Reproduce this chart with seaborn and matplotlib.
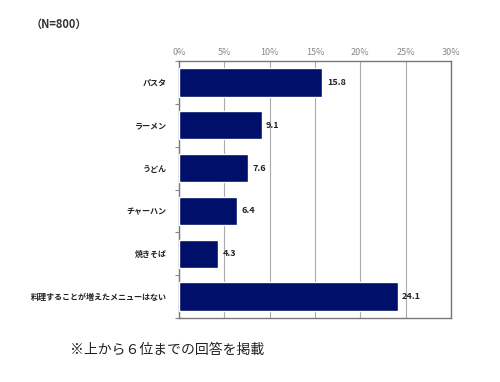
import matplotlib
matplotlib.use("Agg")
import matplotlib.pyplot as plt
import seaborn as sns
import pandas as pd
from matplotlib.ticker import FixedLocator

categories = ["パスタ", "ラーメン", "うどん", "チャーハン", "焼きそば", "料理することが増えたメニューはない"]
values = [15.8, 9.1, 7.6, 6.4, 4.3, 24.1]
tick_values = [0, 5, 10, 15, 20, 25, 30]
tick_labels = ["0%", "5%", "10%", "15%", "20%", "25%", "30%"]

sns.set_theme(style="white")
plt.rcParams['font.family'] = ['Noto Sans CJK JP', 'DejaVu Sans']

df = pd.DataFrame({"category": categories, "value": values})

fig = plt.figure(figsize=(5, 3.82), dpi=100)
ax = fig.add_axes([0.358, 0.1675, 0.544, 0.6725])
sns.barplot(data=df, x="value", y="category", orient="h", color="#00106a",
            saturation=1, width=0.66, ax=ax, zorder=3)

ax.set_xlim(0, 30)
ax.set_xticks(tick_values)
ax.set_xticklabels(tick_labels, fontsize=6.5, color="#888888")
ax.xaxis.tick_top()
ax.tick_params(axis="x", length=0, pad=3)
ax.grid(axis="x", color="#aaaaaa", linewidth=0.8, zorder=0)
ax.set_xlabel("")
ax.set_ylabel("")
ax.set_yticks(range(len(categories)))
ax.set_yticklabels(categories, fontsize=5.8, fontweight="bold", color="#222222")
ax.tick_params(axis="y", length=0, pad=9)
ax.yaxis.set_minor_locator(FixedLocator([i + 0.5 for i in range(-1, len(categories))]))
ax.tick_params(axis="y", which="minor", length=3, color="#888888", width=0.8, left=True)
ax.set_ylim(len(categories) - 0.5, -0.5)

for s in ax.spines.values():
    s.set_color("#777777")
    s.set_linewidth(1.0)

for i, v in enumerate(values):
    ax.text(v + 0.5, i, f"{v:.1f}", va="center", ha="left", fontsize=6.5,
            fontweight="bold", color="#222222")

fig.text(0.062, 0.935, "（N=800）", fontsize=8, fontweight="bold", color="#333333", va="center")
fig.text(0.14, 0.085, "※上から６位までの回答を掲載", fontsize=10, color="#222222", va="center")

fig.savefig("out.png", dpi=100, facecolor="white")
